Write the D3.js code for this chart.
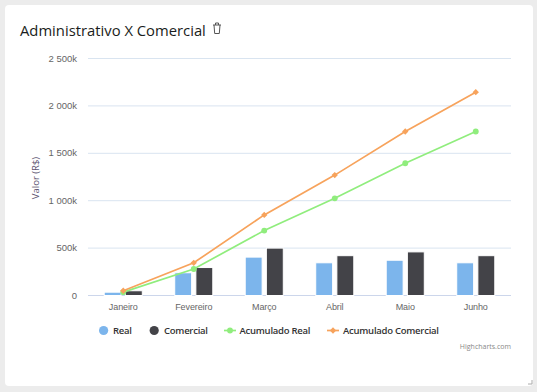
<!DOCTYPE html>
<html>
<head>
<meta charset="utf-8">
<script src="https://d3js.org/d3.v7.min.js"></script>
<style>
  html, body { margin: 0; padding: 0; background: #ececec; }
  svg { display: block; font-family: "Open Sans", sans-serif; }
  .y.axis text { fill: #666; font-size: 9.5px; }
  .x.axis text { fill: #666; font-size: 9px; letter-spacing: -0.1px; }
</style>
</head>
<body>
<div id="chart-area"></div>
<script>
const categories = ["Janeiro", "Fevereiro", "Março", "Abril", "Maio", "Junho"]
const real = [35, 240, 405, 345, 372, 345]
const comercial = [50, 295, 500, 420, 460, 420]
const acumuladoReal = [35, 280, 685, 1025, 1395, 1730]
const acumuladoComercial = [50, 345, 850, 1270, 1730, 2145]
const yTicks = [0, 500, 1000, 1500, 2000, 2500]
const yTickLabels = ["0", "500k", "1 000k", "1 500k", "2 000k", "2 500k"]

const WIDTH = 537
const HEIGHT = 392
const MARGIN = { left: 88, right: 26, top: 58.5, bottom: 96.5 }
const BLUE = "#7cb5ec", DARK = "#434348", GREEN = "#90ed7d", ORANGE = "#f7a35c"

const svg = d3.select("#chart-area").append("svg")
    .attr("width", WIDTH)
    .attr("height", HEIGHT)

// card
svg.append("rect")
    .attr("x", 5).attr("y", 5)
    .attr("width", 528).attr("height", 381)
    .attr("rx", 4)
    .attr("fill", "#fff")

svg.append("text")
    .attr("x", 20).attr("y", 36)
    .attr("font-size", "14.8px")
    .attr("font-weight", 500)
    .attr("fill", "#1a1d20")
    .text("Administrativo X Comercial")

// trash icon
const icon = svg.append("g")
    .attr("transform", "translate(212, 22.5)")
    .attr("fill", "none")
    .attr("stroke", "#555")
    .attr("stroke-width", 1)
icon.append("path").attr("d", "M1 2.5 L9 2.5 M3.5 2.5 L3.5 0.5 L6.5 0.5 L6.5 2.5 M2 2.5 L2.7 11 L7.3 11 L8 2.5")

const x = d3.scaleBand()
    .domain(categories)
    .range([MARGIN.left, WIDTH - MARGIN.right])

const y = d3.scaleLinear()
    .domain([0, 2500])
    .range([HEIGHT - MARGIN.bottom, MARGIN.top])

// groupPadding 0.2 / pointPadding 0.1
const xSeries = d3.scaleBand()
    .domain(["Real", "Comercial"])
    .range([x.bandwidth() * 0.2, x.bandwidth() * 0.8])
    .paddingInner(0.2)
    .paddingOuter(0.1)

const yAxisCall = d3.axisLeft(y)
    .tickValues(yTicks)
    .tickFormat((d, i) => yTickLabels[i])
    .tickSize(0)
    .tickPadding(11)
    .offset(0)
const yAxis = svg.append("g")
    .attr("class", "y axis")
    .attr("transform", `translate(${MARGIN.left}, 0)`)
    .call(yAxisCall)
yAxis.select(".domain").remove()
yAxis.selectAll(".tick").append("line")
    .attr("x2", WIDTH - MARGIN.left - MARGIN.right)
    .attr("stroke", d => d === 0 ? "#ccd6eb" : "#d9e4f0")
    .attr("stroke-width", 1)

const xAxisCall = d3.axisBottom(x).tickSize(0).tickPadding(8).offset(0)
const xAxis = svg.append("g")
    .attr("class", "x axis")
    .attr("transform", `translate(0, ${HEIGHT - MARGIN.bottom})`)
    .call(xAxisCall)
xAxis.select(".domain").remove()

svg.append("text")
    .attr("x", -178)
    .attr("y", 39)
    .attr("font-size", "9.5px")
    .attr("fill", "#5c5470")
    .attr("text-anchor", "middle")
    .attr("transform", "rotate(-90)")
    .text("Valor (R$)")

const addBars = (values, name, color) => {
    svg.append("g").selectAll("rect")
        .data(values)
        .enter().append("rect")
        .attr("x", (d, i) => x(categories[i]) + xSeries(name))
        .attr("y", d => y(d))
        .attr("width", xSeries.bandwidth())
        .attr("height", d => y(0) - y(d))
        .attr("fill", color)
        .attr("stroke", "#fff")
        .attr("stroke-width", 1)
}
addBars(real, "Real", BLUE)
addBars(comercial, "Comercial", DARK)

const line = d3.line()
    .x((d, i) => x(categories[i]) + x.bandwidth() / 2)
    .y(d => y(d))

const circleMark = d3.symbol().type(d3.symbolCircle).size(27)
const diamondMark = d3.symbol().type(d3.symbolSquare).size(20)

const addLine = (values, color, mark, rotate) => {
    svg.append("path")
        .attr("d", line(values))
        .attr("fill", "none")
        .attr("stroke", color)
        .attr("stroke-width", 1.7)
    svg.append("g").selectAll("path")
        .data(values)
        .enter().append("path")
        .attr("d", mark)
        .attr("transform", (d, i) => `translate(${x(categories[i]) + x.bandwidth() / 2}, ${y(d)}) rotate(${rotate})`)
        .attr("fill", color)
}
addLine(acumuladoReal, GREEN, circleMark, 0)
addLine(acumuladoComercial, ORANGE, diamondMark, 45)

// legend
const legendY = 330.5
const legendText = (lx, label) => svg.append("text")
    .attr("x", lx).attr("y", legendY + 3.5)
    .attr("font-size", "9.5px")
    .attr("font-weight", 600)
    .attr("letter-spacing", "-0.25px")
    .attr("fill", "#333")
    .text(label)

svg.append("circle").attr("cx", 103.6).attr("cy", legendY).attr("r", 4.6).attr("fill", BLUE)
legendText(113, "Real")
svg.append("circle").attr("cx", 154.2).attr("cy", legendY).attr("r", 4.6).attr("fill", DARK)
legendText(164, "Comercial")

svg.append("line").attr("x1", 224).attr("x2", 236).attr("y1", legendY).attr("y2", legendY)
    .attr("stroke", GREEN).attr("stroke-width", 1.7)
svg.append("path").attr("d", circleMark)
    .attr("transform", `translate(230, ${legendY})`).attr("fill", GREEN)
legendText(239.5, "Acumulado Real")

svg.append("line").attr("x1", 327).attr("x2", 339).attr("y1", legendY).attr("y2", legendY)
    .attr("stroke", ORANGE).attr("stroke-width", 1.7)
svg.append("path").attr("d", diamondMark)
    .attr("transform", `translate(333, ${legendY}) rotate(45)`).attr("fill", ORANGE)
legendText(343, "Acumulado Comercial")

svg.append("text")
    .attr("x", 511).attr("y", 348.5)
    .attr("text-anchor", "end")
    .attr("font-size", "7px")
    .attr("fill", "#888")
    .text("Highcharts.com")

// resize handle
svg.append("path")
    .attr("d", "M532 380 L532 384 L528 384")
    .attr("fill", "none")
    .attr("stroke", "#aaa")
    .attr("stroke-width", 1)
</script>
</body>
</html>
